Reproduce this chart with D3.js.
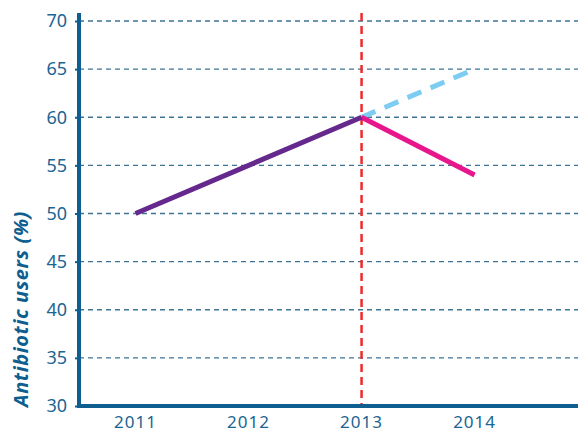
<!DOCTYPE html>
<html>
<head>
<meta charset="utf-8">
<script src="https://cdn.jsdelivr.net/npm/d3@7"></script>
<style>
  body { margin: 0; background: #fff; }
  svg { display: block; }
</style>
</head>
<body>
<svg id="chart" width="578" height="433"></svg>
<script>
// data
const years = [2011, 2012, 2013, 2014];
const yTicks = [30, 35, 40, 45, 50, 55, 60, 65, 70];
const before = [{ year: 2011, value: 50 }, { year: 2013, value: 60 }];
const after = [{ year: 2013, value: 60 }, { year: 2014, value: 54 }];
const trend = [{ year: 2013, value: 60 }, { year: 2014, value: 65 }];
const cutYear = 2013;

const width = 578, height = 433;
const margin = { top: 13, right: 0, bottom: 27, left: 79 };
const axisColor = '#0e5e8f';

const svg = d3.select('#chart');

const x = d3.scaleLinear()
    .domain([2010.5, 2014.915])
    .range([margin.left, width - margin.right]);
const y = d3.scaleLinear()
    .domain([30, 70])
    .range([406, 21]);

// grid
svg.append('g')
    .selectAll('line')
    .data(yTicks.filter(d => d > 30))
    .join('line')
    .attr('x1', margin.left)
    .attr('x2', width)
    .attr('y1', d => y(d))
    .attr('y2', d => y(d))
    .attr('stroke', '#3c7496')
    .attr('stroke-width', 1.3)
    .attr('stroke-dasharray', '5,4');

// y axis
const yAxis = svg.append('g')
    .attr('transform', `translate(${margin.left},0)`)
    .call(d3.axisLeft(y).tickValues(yTicks).tickSize(4).tickPadding(8));
yAxis.select('.domain').remove();
yAxis.selectAll('.tick line').attr('stroke', axisColor).attr('stroke-width', 2);
yAxis.selectAll('.tick text')
    .attr('fill', '#1b6592')
    .style('font-family', 'Noto Sans, sans-serif')
    .style('font-size', '18px');

// x axis labels
svg.append('g')
    .selectAll('text')
    .data(years)
    .join('text')
    .attr('x', d => x(d))
    .attr('y', 428)
    .attr('text-anchor', 'middle')
    .attr('fill', '#1b6592')
    .style('font-family', 'Noto Sans, sans-serif')
    .style('font-size', '17px')
    .style('letter-spacing', '1px')
    .text(d => d);

// axis lines
svg.append('line')
    .attr('x1', margin.left).attr('x2', margin.left)
    .attr('y1', margin.top).attr('y2', 408)
    .attr('stroke', axisColor).attr('stroke-width', 4);
svg.append('line')
    .attr('x1', margin.left - 2).attr('x2', width)
    .attr('y1', 406).attr('y2', 406)
    .attr('stroke', axisColor).attr('stroke-width', 4);

// red cut line
svg.append('line')
    .attr('x1', x(cutYear)).attr('x2', x(cutYear))
    .attr('y1', margin.top).attr('y2', 404)
    .attr('stroke', '#ee2a2a')
    .attr('stroke-width', 2.5)
    .attr('stroke-dasharray', '8,5');

const line = d3.line().x(d => x(d.year)).y(d => y(d.value));

svg.append('path')
    .datum(trend)
    .attr('d', line)
    .attr('fill', 'none')
    .attr('stroke', '#7dcdf2')
    .attr('stroke-width', 5)
    .attr('stroke-dasharray', '15,10');

svg.append('path')
    .datum(after)
    .attr('d', line)
    .attr('fill', 'none')
    .attr('stroke', '#e8168c')
    .attr('stroke-width', 5);

svg.append('path')
    .datum(before)
    .attr('d', line)
    .attr('fill', 'none')
    .attr('stroke', '#65288d')
    .attr('stroke-width', 5);

// y label
svg.append('text')
    .attr('transform', 'translate(28,407) rotate(-90)')
    .attr('text-anchor', 'start')
    .attr('fill', '#0e5e8f')
    .style('font-family', 'Noto Sans, sans-serif')
    .style('font-size', '20px')
    .style('font-weight', 'bold')
    .style('font-style', 'italic')
    .style('letter-spacing', '0.6px')
    .text('Antibiotic users (%)');
</script>
</body>
</html>
